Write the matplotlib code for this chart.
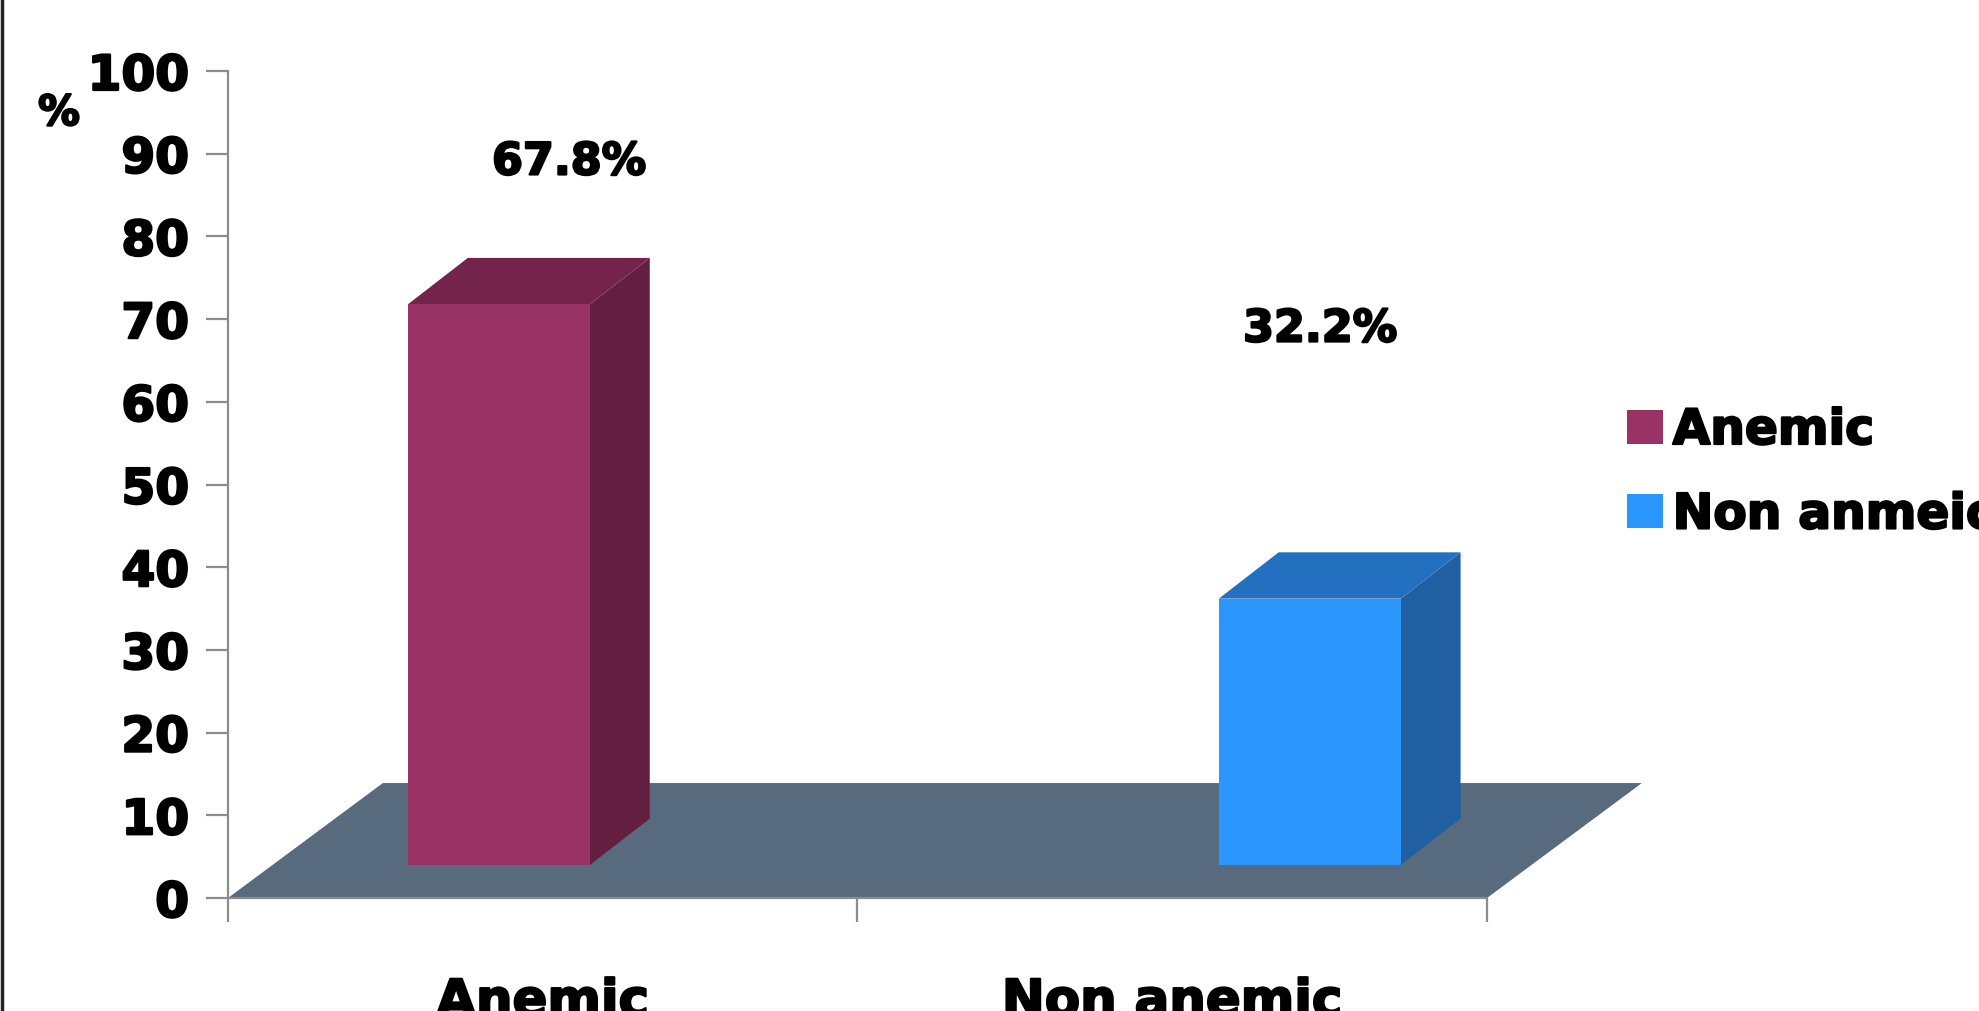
import matplotlib
matplotlib.use("Agg")
import matplotlib.pyplot as plt
import matplotlib.patheffects as pe
from matplotlib.patches import Polygon, Patch
from matplotlib.lines import Line2D

# ---------------- data ----------------
categories = ["Anemic", "Non anemic"]
series_names = ["Anemic", "Non anmeic"]
values = [67.8, 32.2]
value_labels = ["67.8%", "32.2%"]
yticks = [0, 10, 20, 30, 40, 50, 60, 70, 80, 90, 100]

front_colors = ["#993366", "#2C96FF"]
side_colors = ["#631F40", "#1F5FA2"]
top_colors = ["#74244A", "#2470C0"]
floor_color = "#586B7E"

# ---------------- layout (pseudo 3d) ----------------
bar_left = [0.286, 1.574]
bar_w = 0.289
base = 4.0          # front face sits a bit behind the floor edge
depth_dx, depth_dy = 0.095, 5.6
floor_dx, floor_dy = 0.246, 13.9
label_xy = [(0.542, 89.0), (1.735, 68.8)]

W, H = 1979, 1011
fig = plt.figure(figsize=(W / 100, H / 100), dpi=100)
ax = fig.add_axes([228 / W, 1 - 898 / H, (1487 - 228) / W, (898 - 71) / H])
ax.set_xlim(0, 2)
ax.set_ylim(0, 100)

heavy = [pe.withStroke(linewidth=1.6, foreground="black")]
font = dict(family="DejaVu Sans", weight="bold", color="black")

# floor
floor = Polygon([(0, 0), (2, 0), (2 + floor_dx, floor_dy), (floor_dx, floor_dy)],
                closed=True, facecolor=floor_color, edgecolor="none",
                clip_on=False, zorder=1)
ax.add_patch(floor)

# bars
for i, v in enumerate(values):
    x0 = bar_left[i]
    x1 = x0 + bar_w
    side = Polygon([(x1, base), (x1 + depth_dx, base + depth_dy),
                    (x1 + depth_dx, base + v + depth_dy), (x1, base + v)],
                   facecolor=side_colors[i], edgecolor="none", clip_on=False, zorder=2)
    top = Polygon([(x0, base + v), (x1, base + v),
                   (x1 + depth_dx, base + v + depth_dy), (x0 + depth_dx, base + v + depth_dy)],
                  facecolor=top_colors[i], edgecolor="none", clip_on=False, zorder=2)
    front = Polygon([(x0, base), (x1, base), (x1, base + v), (x0, base + v)],
                    facecolor=front_colors[i], edgecolor="none", clip_on=False, zorder=3)
    ax.add_patch(side)
    ax.add_patch(top)
    ax.add_patch(front)
    ax.text(label_xy[i][0], label_xy[i][1], value_labels[i], ha="center",
            va="center", fontsize=32, path_effects=heavy, **font)

# axes styling
for s in ["top", "right"]:
    ax.spines[s].set_visible(False)
for s in ["left", "bottom"]:
    ax.spines[s].set_color("#8C8C8C")
    ax.spines[s].set_linewidth(1.6)
    ax.spines[s].set_zorder(4)

ax.set_yticks(yticks)
ax.set_yticklabels([str(t) for t in yticks], fontsize=35, **font)
for t in ax.get_yticklabels():
    t.set_path_effects(heavy)
ax.tick_params(axis="y", length=16, width=1.6, color="#8C8C8C", pad=12)

ax.set_xticks([0, 1, 2])
ax.set_xticklabels([])
ax.tick_params(axis="x", length=17, width=1.6, color="#8C8C8C")
for i, c in enumerate(categories):
    ax.text(i + 0.5, -14.3, c, ha="center", va="baseline", fontsize=37,
            clip_on=False, path_effects=heavy, **font)

fig.text(59 / W, 1 - 113 / H, "%", ha="center", va="center", fontsize=30,
         path_effects=heavy, **font)

# legend
handles = [Patch(facecolor=front_colors[i], edgecolor="none") for i in range(2)]
leg = ax.legend(handles, series_names, loc="upper left",
                bbox_to_anchor=(1627 / W, 1 - 406 / H), bbox_transform=fig.transFigure,
                frameon=False, handlelength=0.74, handleheight=0.7, handletextpad=0.2,
                labelspacing=0.75, borderpad=0, borderaxespad=0,
                prop=dict(family="DejaVu Sans", weight="bold", size=35))
for t in leg.get_texts():
    t.set_path_effects(heavy)

# dark frame line on the left edge
fig.add_artist(Line2D([1.5 / W, 1.5 / W], [0, 1], color="#222222", linewidth=2.5,
                      transform=fig.transFigure))

fig.savefig("out.png", dpi=100)
